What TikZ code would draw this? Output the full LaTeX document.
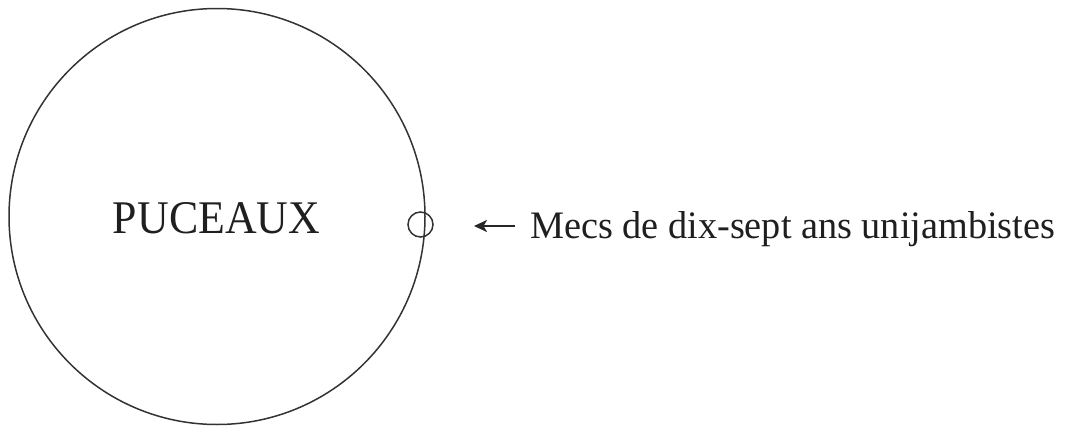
\documentclass[tikz,border=0pt]{standalone}
\usepackage{fontspec}
\setmainfont{Liberation Serif}
\usetikzlibrary{arrows.meta}
\begin{document}
\begin{tikzpicture}[x=1pt,y=-1pt,
  ring/.style={draw=black!80,line width=1.5pt},
  txt/.style={text=black!88,inner sep=0pt},
  pointer/.style={draw=black!85,line width=2.4pt,-{Stealth[length=13pt,width=12pt,inset=3.5pt]}}]
\useasboundingbox (0,0) rectangle (1066,434);
\node[ring,circle,minimum size=416pt,inner sep=0pt] (big) at (217,216.5) {};
\node[txt,font=\fontsize{46}{50}\selectfont,anchor=base] (puc) at (216.5,233) {\resizebox{207pt}{31pt}{PUCEAUX}};
\node[ring,circle,minimum size=25pt,inner sep=0pt] (small) at (420.5,224.5) {};
\node[txt,font=\fontsize{38}{42}\selectfont,anchor=base west] (lab) at (530,238) {\resizebox{525pt}{27pt}{Mecs de dix-sept ans unijambistes}};
\coordinate (tail) at (515,226);
\coordinate (tip) at (474,226);
\draw[pointer] (tail) -- (tip);
\end{tikzpicture}
\end{document}
